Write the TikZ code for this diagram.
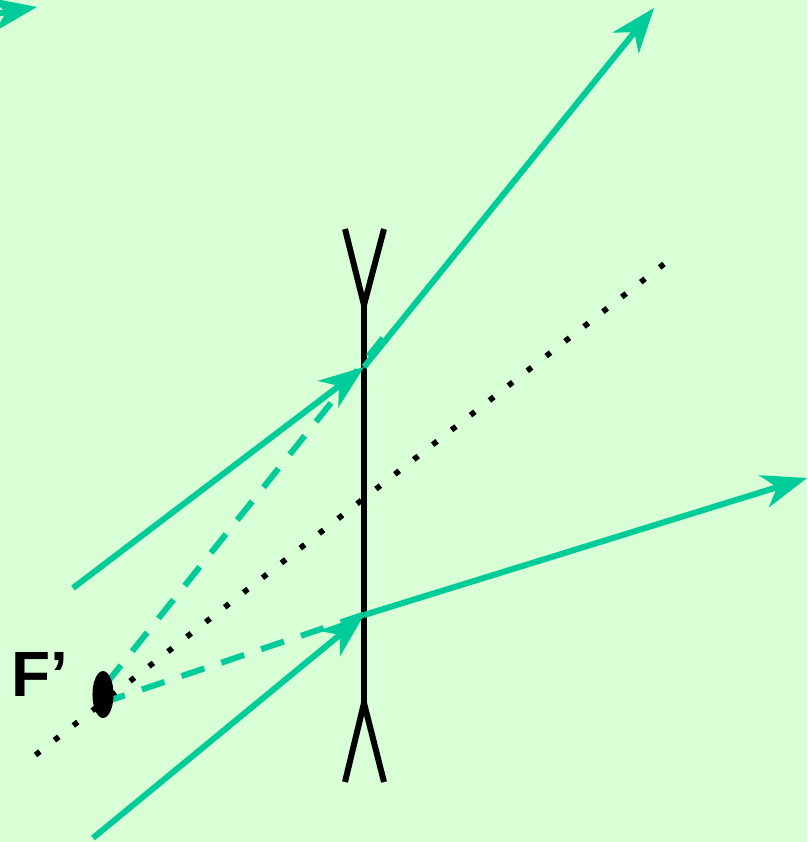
\documentclass[tikz,border=0pt]{standalone}
\usepackage{fontspec}
\setmainfont{Liberation Sans}
\usetikzlibrary{shapes,arrows.meta,positioning}
\definecolor{paper}{RGB}{216,255,214}
\definecolor{ray}{RGB}{0,204,153}
\tikzset{ray/.style = {draw=ray, line width = 4.5pt, -{Stealth[length = 34pt, width = 25.5pt, inset = 10.5pt, line width = 0pt]}},
         virtual/.style = {draw=ray, line width = 4.5pt, dash pattern = on 18pt off 13.5pt},
         axis/.style = {draw=black, line width = 4.2pt, dash pattern = on 4.2pt off 13.8pt},
         lens/.style = {draw=black, line width = 4.5pt},
         focus/.style = {draw=none, fill=black, ellipse, minimum width = 15.8pt, minimum height = 35.2pt, inner sep = 0pt},
         label/.style = {font = \bfseries\fontsize{48pt}{48pt}\selectfont, inner sep = 0pt, anchor = base west},
}

\begin{document}
\begin{tikzpicture}[x = .75pt, y = -.75pt]

  \path[fill=paper, use as bounding box] (0,0) rectangle (807,842);
  \clip (0,0) rectangle (807,842);

  \coordinate (hit1) at (364,367);
  \coordinate (hit2) at (364,615);
  \coordinate (in1) at (73,588);
  \coordinate (in2) at (93,838);
  \coordinate (out1) at (654,8);
  \coordinate (out2) at (807,478);
  \coordinate (top) at (364,305);
  \coordinate (bot) at (364,703);
  \coordinate (topl) at (345,229);
  \coordinate (topr) at (384,229);
  \coordinate (botl) at (345,782);
  \coordinate (botr) at (384,782);
  \coordinate (ax1) at (35.5,755);
  \coordinate (ax2) at (664,264);
  \coordinate (v1s) at (106,684);
  \coordinate (v1e) at (383,338);
  \coordinate (v2s) at (102,703);
  \coordinate (v2e) at (364,614.5);
  \coordinate (far1) at (-70,25);
  \coordinate (far2) at (37,7);

  \draw[lens] (topl) -- (top) -- (topr);
  \draw[lens] (botl) -- (bot) -- (botr);
  \draw[lens] (top) -- (bot);

  \draw[axis] (ax1) -- (ax2);

  \draw[virtual] (v1s) -- (v1e);
  \draw[virtual] (v2s) -- (v2e);

  \draw[ray] (in1) -- (hit1);
  \draw[ray] (in2) -- (hit2);
  \draw[ray] (hit1) -- (out1);
  \draw[ray] (hit2) -- (out2);
  \draw[ray] (far1) -- (far2);

  \node[focus] (fp) at (103,694.5) {};
  \node[label] (fname) at (11,696) {F’};

\end{tikzpicture}
\end{document}
